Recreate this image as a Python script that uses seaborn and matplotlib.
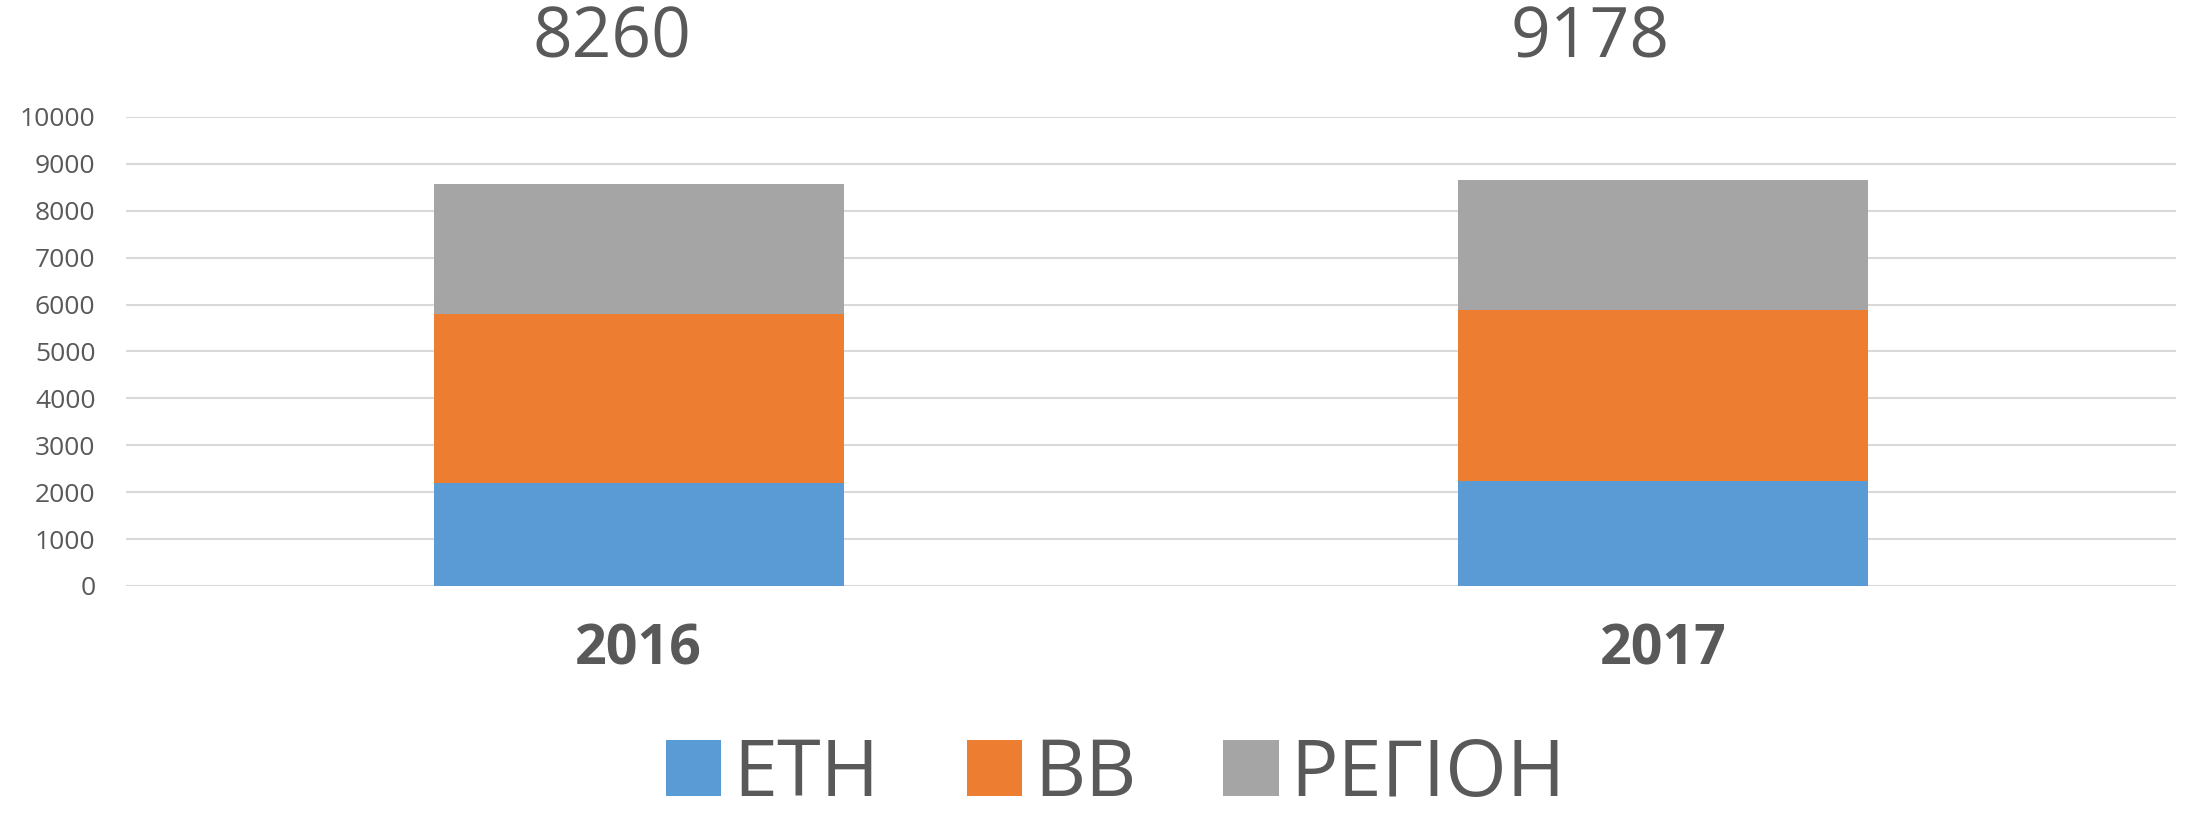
import matplotlib
matplotlib.use("Agg")
import matplotlib.pyplot as plt
import seaborn as sns

# data
years = ["2016", "2017"]
eth = [2190, 2245]
bb = [3616, 3646]
region = [2765, 2766]
headline_totals = ["8260", "9178"]
series_names = ["ETH", "BB", "ΡΕΓΙΟΗ"]
series_colors = ["#5B9BD5", "#ED7D31", "#A5A5A5"]
y_ticks = list(range(0, 10001, 1000))

TEXT = "#595959"

sns.set_theme(style="white")
plt.rcParams["font.family"] = ["Open Sans", "DejaVu Sans"]

fig = plt.figure(figsize=(21.88, 8.32), dpi=100)
ax = fig.add_axes([0.0576, 0.2957, 0.9369, 0.5637])

# stacked bars: draw the running totals from the top segment down
eth_bb = [a + b for a, b in zip(eth, bb)]
totals = [a + b for a, b in zip(eth_bb, region)]
layers = [(totals, series_names[2], series_colors[2]),
          (eth_bb, series_names[1], series_colors[1]),
          (eth, series_names[0], series_colors[0])]
for values, name, col in layers:
    sns.barplot(x=years, y=values, color=col, width=0.4, errorbar=None,
                saturation=1, label=name, ax=ax, linewidth=0, zorder=2)

ax.set_ylim(0, 10000)
ax.set_yticks(y_ticks)
ax.yaxis.grid(True, color="#D9D9D9", linewidth=1.5)
ax.xaxis.grid(False)
ax.set_axisbelow(True)
for s in ax.spines.values():
    s.set_visible(False)
ax.set_xlabel("")
ax.set_ylabel("")
ax.tick_params(axis="y", length=0, pad=22, labelsize=19, labelcolor=TEXT)
ax.tick_params(axis="x", length=0, pad=26, labelsize=40, labelcolor=TEXT)
for lbl in ax.get_xticklabels():
    lbl.set_fontweight("bold")

# headline numbers above the chart
for xpos, txt in zip([0.2797, 0.7267], headline_totals):
    fig.text(xpos, 0.952, txt, ha="center", va="center", fontsize=50, color=TEXT)

handles, labels = ax.get_legend_handles_labels()
if ax.get_legend() is not None:
    ax.get_legend().remove()
order = [labels.index(n) for n in series_names]
fig.legend([handles[i] for i in order], [labels[i] for i in order],
           loc="center", bbox_to_anchor=(0.51, 0.068), ncol=3, frameon=False,
           fontsize=57, labelcolor=TEXT, handlelength=0.7, handleheight=0.72,
           handletextpad=0.15, columnspacing=1.1, borderpad=0)

fig.savefig("out.png", dpi=100)
